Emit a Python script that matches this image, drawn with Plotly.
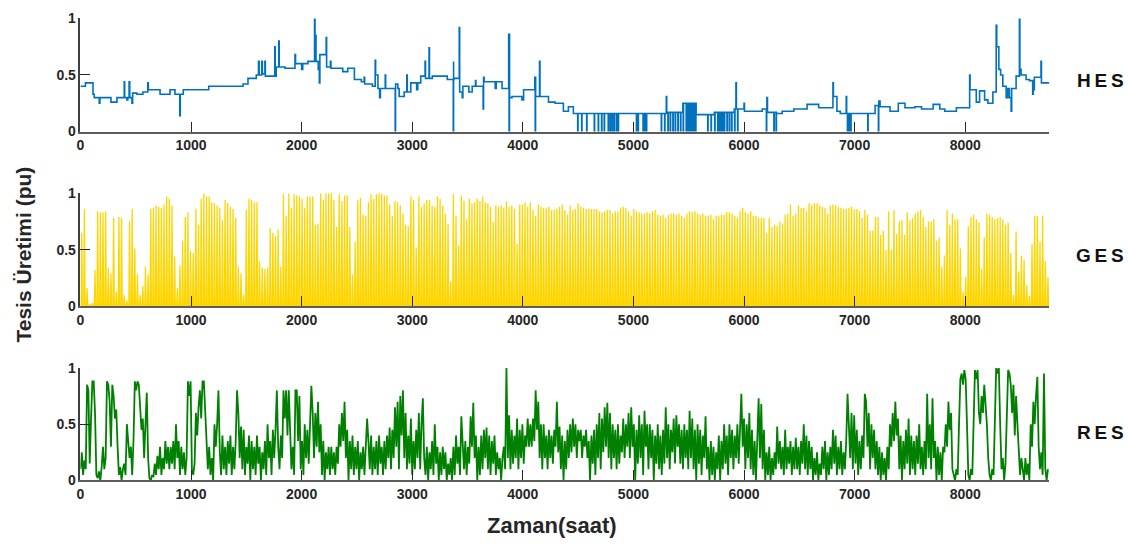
import plotly.graph_objects as go

# ---------------- DATA ----------------
x_tick_values = [0, 1000, 2000, 3000, 4000, 5000, 6000, 7000, 8000]
y_tick_values = [0, 0.5, 1]
y_tick_text = ["0", "0.5", "1"]
panel_labels = ["HES", "GES", "RES"]
x_title = "Zaman(saat)"
y_title = "Tesis Üretimi (pu)"
x_max_hour = 8760

# HES: step series (hour where a level starts, level in pu)
hes_hours = [0, 45, 114, 125, 170, 176, 276, 330, 396, 400, 420, 428, 440, 446, 466, 472, 510, 565, 609, 614,
             720, 810, 855, 898, 903, 930, 1160, 1470, 1515, 1590, 1610, 1616, 1640, 1645, 1668, 1672, 1757, 1761, 1770, 1793,
             1797, 1850, 1940, 1945, 2000, 2010, 2057, 2117, 2121, 2130, 2150, 2160, 2165, 2222, 2226, 2260, 2265, 2372, 2417, 2477,
             2540, 2565, 2570, 2640, 2665, 2669, 2690, 2705, 2712, 2756, 2760, 2850, 2870, 2882, 2927, 2951, 2955, 2987, 3040, 3050,
             3077, 3116, 3120, 3152, 3156, 3182, 3317, 3374, 3378, 3425, 3429, 3452, 3458, 3512, 3542, 3572, 3576, 3641, 3645, 3650,
             3750, 3760, 3812, 3872, 3880, 3902, 3992, 4007, 4108, 4116, 4151, 4155, 4232, 4292, 4367, 4412, 4457, 5297, 5301, 5447,
             5567, 5732, 5912, 5927, 5931, 6000, 6004, 6165, 6207, 6212, 6294, 6345, 6450, 6570, 6675, 6804, 6808, 6840, 6870, 6924,
             6928, 7185, 7219, 7230, 7320, 7395, 7455, 7545, 7605, 7710, 7770, 7815, 7920, 8040, 8044, 8100, 8130, 8175, 8205, 8250,
             8280, 8285, 8304, 8320, 8340, 8370, 8385, 8400, 8415, 8420, 8460, 8490, 8494, 8505, 8550, 8580, 8610, 8615, 8625, 8685,
             8689, 8760]
hes_values = [0.40, 0.43, 0.33, 0.30, 0.25, 0.30, 0.26, 0.30, 0.44, 0.30, 0.28, 0.30, 0.44, 0.30, 0.25, 0.34, 0.33, 0.35, 0.43, 0.37,
              0.33, 0.37, 0.33, 0.14, 0.33, 0.37, 0.40, 0.42, 0.47, 0.50, 0.62, 0.50, 0.62, 0.51, 0.62, 0.49, 0.75, 0.49, 0.57, 0.80,
              0.57, 0.56, 0.68, 0.60, 0.55, 0.60, 0.62, 1.00, 0.85, 0.62, 0.55, 0.43, 0.68, 0.83, 0.57, 0.62, 0.56, 0.53, 0.56, 0.46,
              0.44, 0.48, 0.42, 0.40, 0.63, 0.50, 0.38, 0.30, 0.38, 0.50, 0.38, 0.42, 0.38, 0.31, 0.35, 0.50, 0.35, 0.43, 0.37, 0.43,
              0.49, 0.62, 0.47, 0.74, 0.47, 0.49, 0.46, 0.62, 0.47, 0.92, 0.35, 0.30, 0.40, 0.35, 0.40, 0.45, 0.40, 0.20, 0.48, 0.44,
              0.38, 0.44, 0.38, 0.86, 0.30, 0.31, 0.28, 0.37, 0.48, 0.31, 0.62, 0.31, 0.26, 0.25, 0.18, 0.22, 0.16, 0.31, 0.17, 0.25,
              0.15, 0.17, 0.20, 0.43, 0.20, 0.25, 0.18, 0.20, 0.30, 0.17, 0.16, 0.18, 0.20, 0.24, 0.21, 0.43, 0.31, 0.18, 0.16, 0.31,
              0.16, 0.23, 0.27, 0.22, 0.18, 0.25, 0.21, 0.22, 0.20, 0.24, 0.20, 0.18, 0.21, 0.50, 0.37, 0.26, 0.36, 0.28, 0.25, 0.35,
              0.94, 0.75, 0.55, 0.50, 0.40, 0.30, 0.38, 0.30, 0.18, 0.38, 0.49, 1.00, 0.55, 0.50, 0.46, 0.45, 0.33, 0.37, 0.48, 0.62,
              0.43, 0.43]
# HES: short outages to zero (hour of each drop)
hes_drop_hours = [2846, 3371, 3876, 4112, 4496, 4532, 4577, 4646, 4682, 4712, 4736, 4772, 4790, 4808, 4826, 4847, 4862,
                  5027, 5042, 5087, 5102, 5117, 5252, 5282, 5312, 5333, 5357, 5378, 5402, 5426, 5450, 5477, 5492, 5507,
                  5522, 5537, 5552, 5562, 5672, 5702, 5735, 5762, 5777, 5792, 5807, 5822, 5846, 5867, 5888, 5915, 5942,
                  6202, 6270, 6290, 6935, 6945, 6955, 6965, 7119, 7215]

# GES: daily peak output (pu), one value per day of the year
ges_daily_peak = [
    0.65, 0.86, 0.16, 0.02, 0.03, 0.32, 0.84, 0.83, 0.83, 0.84, 0.34, 0.29, 0.78, 0.13, 0.79, 0.78, 0.10, 0.05, 0.75, 0.86,
    0.51, 0.28, 0.10, 0.18, 0.35, 0.28, 0.86, 0.87, 0.89, 0.88, 0.87, 0.90, 0.97, 0.95, 0.89, 0.44, 0.16, 0.36, 0.58, 0.79,
    0.83, 0.49, 0.47, 0.86, 0.72, 0.95, 1.00, 0.97, 0.97, 0.92, 0.91, 0.89, 0.87, 0.76, 0.94, 0.91, 0.88, 0.86, 0.78, 0.35,
    0.29, 0.10, 0.85, 0.95, 0.94, 0.92, 0.92, 0.40, 0.34, 0.33, 0.34, 0.69, 0.65, 0.62, 0.68, 0.35, 0.99, 0.80, 1.00, 0.87,
    0.99, 0.98, 0.97, 0.95, 0.87, 0.97, 0.97, 0.97, 0.72, 0.73, 1.00, 0.94, 1.00, 1.00, 1.00, 0.94, 0.70, 0.99, 0.93, 0.98,
    0.98, 0.70, 0.28, 0.57, 0.94, 0.96, 0.81, 0.80, 0.92, 0.99, 0.95, 0.99, 1.00, 1.00, 0.98, 0.98, 0.90, 0.80, 0.93, 0.92,
    0.89, 0.82, 0.72, 0.71, 0.97, 0.94, 0.52, 0.97, 0.88, 0.91, 0.94, 0.94, 0.89, 0.88, 0.97, 0.95, 0.89, 0.82, 0.73, 0.22,
    0.99, 0.80, 0.54, 0.98, 0.93, 0.77, 0.95, 0.91, 0.92, 0.95, 0.93, 0.97, 0.92, 0.91, 0.88, 0.75, 0.89, 0.88, 0.89, 0.87,
    0.93, 0.88, 0.89, 0.86, 0.55, 0.90, 0.90, 0.92, 0.88, 0.92, 0.85, 0.80, 0.90, 0.88, 0.87, 0.87, 0.88, 0.85, 0.85, 0.86,
    0.88, 0.90, 0.85, 0.81, 0.89, 0.85, 0.86, 0.91, 0.88, 0.87, 0.86, 0.86, 0.86, 0.86, 0.86, 0.84, 0.83, 0.84, 0.85, 0.85,
    0.82, 0.84, 0.84, 0.87, 0.88, 0.87, 0.84, 0.80, 0.86, 0.84, 0.83, 0.82, 0.82, 0.83, 0.82, 0.84, 0.85, 0.81, 0.80, 0.81,
    0.78, 0.81, 0.82, 0.82, 0.81, 0.82, 0.80, 0.78, 0.82, 0.84, 0.83, 0.84, 0.82, 0.81, 0.82, 0.80, 0.80, 0.81, 0.77, 0.80,
    0.80, 0.81, 0.81, 0.83, 0.83, 0.82, 0.80, 0.78, 0.84, 0.87, 0.83, 0.82, 0.84, 0.80, 0.80, 0.78, 0.78, 0.78, 0.65, 0.78,
    0.70, 0.72, 0.71, 0.75, 0.73, 0.81, 0.82, 0.90, 0.80, 0.82, 0.89, 0.87, 0.87, 0.84, 0.91, 0.90, 0.91, 0.91, 0.89, 0.88,
    0.87, 0.82, 0.89, 0.90, 0.89, 0.88, 0.87, 0.86, 0.86, 0.87, 0.88, 0.86, 0.86, 0.84, 0.78, 0.85, 0.81, 0.67, 0.67, 0.79,
    0.79, 0.63, 0.67, 0.50, 0.84, 0.50, 0.85, 0.64, 0.75, 0.76, 0.63, 0.83, 0.76, 0.78, 0.82, 0.84, 0.85, 0.79, 0.70, 0.75,
    0.75, 0.77, 0.58, 0.61, 0.35, 0.45, 0.85, 0.72, 0.82, 0.77, 0.77, 0.51, 0.13, 0.26, 0.71, 0.79, 0.81, 0.77, 0.74, 0.33,
    0.61, 0.82, 0.81, 0.79, 0.77, 0.78, 0.79, 0.77, 0.72, 0.74, 0.47, 0.10, 0.66, 0.31, 0.45, 0.41, 0.19, 0.09, 0.55, 0.80,
    0.80, 0.57, 0.80, 0.40, 0.26]

# RES: output sampled every 12 hours (pu)
res_step_hours = 12
res_values = [
    0.10, 0.25, 0.05, 0.18, 0.10, 0.85, 0.80, 0.15, 0.55, 0.88, 0.88, 0.60, 0.05, 0.02, 0.08, 0.00, 0.12, 0.30, 0.10, 0.20,
    0.88, 0.85, 0.70, 0.30, 0.85, 0.75, 0.55, 0.63, 0.30, 0.05, 0.12, 0.00, 0.10, 0.15, 0.05, 0.50, 0.35, 0.20, 0.30, 0.05,
    0.36, 0.88, 0.80, 0.88, 0.85, 0.60, 0.45, 0.55, 0.20, 0.50, 0.78, 0.20, 0.02, 0.00, 0.05, 0.03, 0.15, 0.05, 0.22, 0.10,
    0.30, 0.05, 0.20, 0.10, 0.35, 0.15, 0.30, 0.10, 0.30, 0.15, 0.35, 0.10, 0.50, 0.20, 0.35, 0.05, 0.30, 0.10, 0.25, 0.05,
    0.20, 0.88, 0.75, 0.88, 0.10, 0.05, 0.15, 0.60, 0.40, 0.65, 0.80, 0.55, 0.88, 0.88, 0.60, 0.45, 0.10, 0.30, 0.05, 0.20,
    0.00, 0.50, 0.30, 0.50, 0.80, 0.25, 0.05, 0.40, 0.10, 0.30, 0.05, 0.35, 0.15, 0.40, 0.05, 0.30, 0.10, 0.35, 0.80, 0.60,
    0.20, 0.48, 0.10, 0.45, 0.05, 0.30, 0.15, 0.40, 0.00, 0.35, 0.10, 0.30, 0.05, 0.40, 0.15, 0.30, 0.00, 0.25, 0.10, 0.35,
    0.05, 0.50, 0.20, 0.35, 0.05, 0.45, 0.20, 0.45, 0.80, 0.30, 0.10, 0.40, 0.20, 0.80, 0.55, 0.80, 0.40, 0.80, 0.40, 0.10,
    0.30, 0.05, 0.80, 0.80, 0.35, 0.75, 0.10, 0.35, 0.05, 0.50, 0.20, 0.45, 0.15, 0.50, 0.84, 0.60, 0.20, 0.60, 0.30, 0.70,
    0.25, 0.50, 0.05, 0.35, 0.00, 0.25, 0.10, 0.30, 0.05, 0.30, 0.10, 0.25, 0.05, 0.30, 0.15, 0.50, 0.30, 0.60, 0.35, 0.70,
    0.20, 0.45, 0.00, 0.35, 0.10, 0.40, 0.05, 0.30, 0.10, 0.35, 0.00, 0.25, 0.10, 0.30, 0.05, 0.30, 0.55, 0.35, 0.10, 0.40,
    0.05, 0.30, 0.10, 0.35, 0.05, 0.40, 0.15, 0.30, 0.05, 0.35, 0.10, 0.40, 0.20, 0.47, 0.10, 0.45, 0.20, 0.65, 0.30, 0.70,
    0.10, 0.75, 0.40, 0.80, 0.20, 0.60, 0.10, 0.40, 0.15, 0.55, 0.05, 0.35, 0.10, 0.45, 0.20, 0.60, 0.10, 0.50, 0.73, 0.20,
    0.05, 0.30, 0.00, 0.25, 0.10, 0.35, 0.05, 0.50, 0.15, 0.30, 0.00, 0.25, 0.05, 0.30, 0.10, 0.25, 0.00, 0.15, 0.05, 0.20,
    0.00, 0.30, 0.05, 0.40, 0.15, 0.30, 0.05, 0.57, 0.30, 0.10, 0.35, 0.05, 0.30, 0.15, 0.57, 0.30, 0.69, 0.20, 0.40, 0.00,
    0.30, 0.05, 0.40, 0.10, 0.45, 0.20, 0.47, 0.10, 0.40, 0.05, 0.35, 0.15, 0.40, 0.05, 0.25, 0.10, 0.20, 0.00, 0.20, 0.30,
    0.10, 1.00, 0.20, 0.58, 0.10, 0.45, 0.15, 0.40, 0.20, 0.55, 0.10, 0.45, 0.20, 0.50, 0.15, 0.40, 0.30, 0.55, 0.30, 0.50,
    0.30, 0.55, 0.35, 0.80, 0.45, 0.70, 0.20, 0.50, 0.10, 0.50, 0.20, 0.40, 0.10, 0.45, 0.20, 0.40, 0.15, 0.45, 0.30, 0.70,
    0.25, 0.48, 0.10, 0.40, 0.00, 0.35, 0.10, 0.45, 0.20, 0.50, 0.25, 0.55, 0.30, 0.50, 0.20, 0.45, 0.35, 0.45, 0.20, 0.40,
    0.30, 0.45, 0.20, 0.35, 0.00, 0.40, 0.15, 0.45, 0.05, 0.50, 0.20, 0.60, 0.10, 0.55, 0.25, 0.65, 0.30, 0.69, 0.20, 0.60,
    0.10, 0.50, 0.20, 0.45, 0.10, 0.50, 0.15, 0.40, 0.25, 0.55, 0.20, 0.50, 0.30, 0.60, 0.20, 0.65, 0.30, 0.50, 0.00, 0.45,
    0.15, 0.58, 0.20, 0.50, 0.05, 0.62, 0.30, 0.50, 0.10, 0.50, 0.20, 0.45, 0.00, 0.40, 0.15, 0.50, 0.10, 0.40, 0.05, 0.45,
    0.15, 0.65, 0.20, 0.50, 0.10, 0.45, 0.25, 0.55, 0.15, 0.58, 0.30, 0.50, 0.15, 0.45, 0.10, 0.50, 0.20, 0.45, 0.10, 0.62,
    0.20, 0.55, 0.10, 0.45, 0.00, 0.50, 0.15, 0.45, 0.05, 0.40, 0.20, 0.57, 0.10, 0.30, 0.00, 0.35, 0.05, 0.30, 0.00, 0.25,
    0.10, 0.40, 0.00, 0.35, 0.10, 0.50, 0.15, 0.40, 0.05, 0.50, 0.20, 0.45, 0.10, 0.40, 0.20, 0.50, 0.15, 0.40, 0.77, 0.30,
    0.55, 0.10, 0.50, 0.20, 0.60, 0.10, 0.45, 0.05, 0.35, 0.00, 0.40, 0.73, 0.20, 0.68, 0.10, 0.45, 0.00, 0.25, 0.05, 0.30,
    0.00, 0.20, 0.05, 0.25, 0.10, 0.48, 0.15, 0.35, 0.10, 0.30, 0.05, 0.45, 0.10, 0.30, 0.15, 0.35, 0.05, 0.30, 0.10, 0.38,
    0.10, 0.30, 0.05, 0.35, 0.15, 0.50, 0.10, 0.40, 0.05, 0.35, 0.10, 0.30, 0.00, 0.20, 0.05, 0.25, 0.00, 0.15, 0.05, 0.30,
    0.10, 0.35, 0.00, 0.25, 0.05, 0.30, 0.10, 0.45, 0.15, 0.40, 0.05, 0.30, 0.10, 0.35, 0.05, 0.25, 0.10, 0.35, 0.77, 0.50,
    0.20, 0.60, 0.10, 0.58, 0.15, 0.45, 0.05, 0.35, 0.10, 0.40, 0.20, 0.77, 0.70, 0.30, 0.60, 0.10, 0.50, 0.20, 0.45, 0.10,
    0.35, 0.05, 0.30, 0.00, 0.25, 0.05, 0.20, 0.00, 0.30, 0.10, 0.50, 0.30, 0.60, 0.35, 0.70, 0.40, 0.55, 0.10, 0.40, 0.00,
    0.35, 0.10, 0.45, 0.15, 0.55, 0.05, 0.40, 0.10, 0.35, 0.05, 0.40, 0.15, 0.50, 0.10, 0.30, 0.05, 0.35, 0.10, 0.77, 0.20,
    0.50, 0.10, 0.73, 0.20, 0.35, 0.00, 0.30, 0.05, 0.25, 0.00, 0.30, 0.25, 0.50, 0.30, 0.70, 0.45, 0.60, 0.10, 0.05, 0.00,
    0.10, 0.05, 0.50, 0.90, 0.95, 0.85, 0.98, 0.90, 0.50, 0.05, 0.00, 0.10, 0.05, 0.60, 0.98, 0.90, 0.98, 0.60, 0.50, 0.75,
    0.60, 0.85, 0.70, 0.50, 0.20, 0.05, 0.00, 0.10, 0.05, 0.60, 1.00, 0.95, 1.00, 0.50, 0.10, 0.20, 0.00, 0.15, 0.70, 0.98,
    0.95, 0.85, 0.60, 0.85, 0.40, 0.75, 0.50, 0.20, 0.05, 0.20, 0.10, 0.00, 0.20, 0.05, 0.15, 0.00, 0.50, 0.30, 0.70, 0.50,
    0.75, 0.92, 0.30, 0.10, 0.25, 0.05, 0.95, 0.10, 0.00, 0.10]

# ---------------- STYLE ----------------
colors = {"HES": "#0072BD", "GES": "#FFD500", "RES": "#008000"}
FONT = "Liberation Sans, Arial, Helvetica, sans-serif"
W, H = 1128, 548
x_domain = [76.7 / W, 1049.0 / W]
# (top px of value 1, bottom px of value 0) for each panel
panel_px = [(10.7, 127.3), (190.7, 307.3), (370.7, 486.7)]

# ---------------- BUILD SERIES ----------------
def level_at(h):
    v = hes_values[0]
    for t, val in zip(hes_hours, hes_values):
        if t <= h:
            v = val
        else:
            break
    return v

hes_pts = list(zip(hes_hours, hes_values))
for d in hes_drop_hours:
    base = level_at(d)
    hes_pts.append((d, 0.0))
    hes_pts.append((d + 3, base))
hes_pts.sort(key=lambda p: p[0])
hes_x = [p[0] for p in hes_pts]
hes_y = [p[1] for p in hes_pts]

ges_x, ges_y = [], []
for d, p in enumerate(ges_daily_peak):
    ges_x += [24 * d + 6, 24 * d + 12, 24 * d + 18]
    ges_y += [0.0, p, 0.0]

res_x = [i * res_step_hours for i in range(len(res_values))]

fig = go.Figure()
fig.add_trace(go.Scatter(x=hes_x, y=hes_y, mode="lines", line=dict(color=colors["HES"], width=1.6, shape="hv"),
                         xaxis="x", yaxis="y", showlegend=False))
fig.add_trace(go.Scatter(x=ges_x, y=ges_y, mode="lines", line=dict(color=colors["GES"], width=1.3),
                         xaxis="x2", yaxis="y2", showlegend=False))
fig.add_trace(go.Scatter(x=res_x, y=res_values, mode="lines", line=dict(color=colors["RES"], width=1.8),
                         xaxis="x3", yaxis="y3", showlegend=False))

tickfont = dict(family=FONT, size=14, color="#262626", weight="bold")
layout = dict(
    width=W, height=H, margin=dict(l=0, r=0, t=0, b=0),
    paper_bgcolor="white", plot_bgcolor="white", showlegend=False,
)
for i, (top, bot) in enumerate(panel_px):
    sfx = "" if i == 0 else str(i + 1)
    layout["xaxis" + sfx] = dict(
        domain=x_domain, range=[0, x_max_hour], anchor="y" + sfx,
        tickmode="array", tickvals=x_tick_values, ticktext=[str(v) for v in x_tick_values],
        ticks="inside", ticklen=10, tickwidth=1, tickcolor="#262626",
        showline=True, linecolor="#5c5c5c", linewidth=2, showgrid=False, zeroline=False,
        tickfont=tickfont, fixedrange=True,
    )
    layout["yaxis" + sfx] = dict(
        domain=[(H - bot) / H, (H - top) / H], range=[0, 1], anchor="x" + sfx,
        tickmode="array", tickvals=y_tick_values, ticktext=y_tick_text,
        ticks="inside", ticklen=10, tickwidth=1, tickcolor="#262626",
        showline=True, linecolor="#404040", linewidth=1.5, showgrid=False, zeroline=False,
        tickfont=tickfont, fixedrange=True,
    )

annotations = []
label_y_px = [75, 255, 437]
for name, ypx in zip(panel_labels, label_y_px):
    annotations.append(dict(text="\u2009".join(name), x=1100 / W, y=(H - ypx) / H, xref="paper", yref="paper",
                            showarrow=False, xanchor="center", yanchor="middle",
                            font=dict(family=FONT, size=19, color="#111111", weight="bold")))
annotations.append(dict(text=y_title, x=20 / W, y=(H - 254) / H, xref="paper", yref="paper",
                        showarrow=False, xanchor="center", yanchor="middle", textangle=-90,
                        font=dict(family=FONT, size=21, color="#262626", weight="bold")))
annotations.append(dict(text=x_title, x=550 / W, y=(H - 533) / H, xref="paper", yref="paper",
                        showarrow=False, xanchor="center", yanchor="middle",
                        font=dict(family=FONT, size=22, color="#262626", weight="bold")))
layout["annotations"] = annotations

fig.update_layout(**layout)
fig.write_html("out.html", config={"responsive": False, "displayModeBar": False},
               post_script="document.body.style.margin='0';document.body.style.overflow='hidden';")
